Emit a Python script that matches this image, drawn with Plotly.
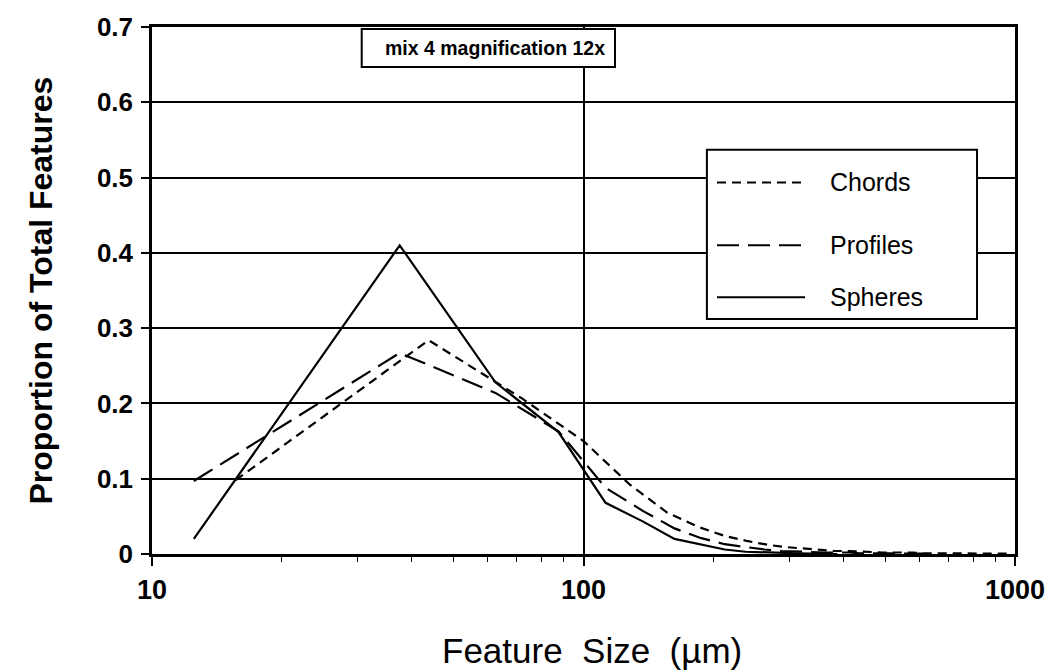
import plotly.graph_objects as go

# Chord-length distribution (28.125 µm bins, bin centres)
chord_size = [15.625, 43.75, 71.875, 100.0, 128.125, 156.25, 184.375, 212.5, 240.625,
              268.75, 296.875, 325.0, 353.125, 381.25, 409.375, 437.5, 465.625, 493.75,
              521.875, 550.0, 578.125, 606.25, 634.375, 662.5, 690.625, 718.75, 746.875,
              775.0, 803.125, 831.25, 859.375, 887.5, 915.625, 943.75, 971.875]
chord_prop = [0.098, 0.284, 0.207, 0.150, 0.092, 0.055, 0.036, 0.024, 0.017,
              0.012, 0.009, 0.007, 0.005, 0.004, 0.004, 0.003, 0.003, 0.002,
              0.002, 0.002, 0.002, 0.001, 0.001, 0.001, 0.001, 0.001, 0.001,
              0.001, 0.001, 0.001, 0.001, 0.0005, 0.0005, 0.0005, 0.0005]

# Profile-size distribution (25 µm bins)
profile_size = [12.5, 37.5, 62.5, 87.5, 112.5, 137.5, 162.5, 187.5, 212.5, 237.5,
                262.5, 287.5, 312.5, 337.5, 362.5, 387.5, 412.5, 437.5, 462.5, 487.5,
                512.5, 537.5, 562.5, 587.5, 612.5]
profile_prop = [0.097, 0.267, 0.214, 0.163, 0.088, 0.057, 0.034, 0.021, 0.013, 0.009,
                0.006, 0.004, 0.003, 0.003, 0.002, 0.002, 0.002, 0.001, 0.001, 0.001,
                0.001, 0.001, 0.0005, 0.0005, 0.0005]

# Unfolded sphere-size distribution (25 µm bins)
sphere_size = [12.5, 37.5, 62.5, 87.5, 112.5, 137.5, 162.5, 187.5, 212.5, 237.5,
               262.5, 287.5, 312.5, 337.5, 362.5, 387.5]
sphere_prop = [0.020, 0.410, 0.228, 0.162, 0.068, 0.043, 0.020, 0.012, 0.006, 0.003,
               0.002, 0.001, 0.001, 0.0005, 0.0, 0.0]

series_names = ["Chords", "Profiles", "Spheres"]
y_tick_vals = [0, 0.1, 0.2, 0.3, 0.4, 0.5, 0.6, 0.7]
y_tick_text = ["0", "0.1", "0.2", "0.3", "0.4", "0.5", "0.6", "0.7"]
x_tick_vals = [10, 100, 1000]
x_tick_text = ["10", "100", "1000"]
x_minor_vals = [20, 30, 40, 50, 60, 70, 80, 90, 200, 300, 400, 500, 600, 700, 800, 900]

title_text = "mix 4 magnification 12x"
x_title = "Feature&nbsp;&nbsp;Size&nbsp;&nbsp;(\u00b5m)"
y_title = "Proportion of Total Features"

FONT = "Arial, Liberation Sans, Helvetica, sans-serif"
dashes = {"Chords": "9px,6px", "Profiles": "22px,9px", "Spheres": "solid"}
data = {
    "Chords": (chord_size, chord_prop),
    "Profiles": (profile_size, profile_prop),
    "Spheres": (sphere_size, sphere_prop),
}

fig = go.Figure()
for name in series_names:
    xs, ys = data[name]
    fig.add_trace(go.Scatter(
        x=xs, y=ys, mode="lines", name=name, showlegend=False,
        line=dict(color="black", width=2.2, dash=dashes[name]),
    ))

fig.update_layout(
    width=1058, height=671,
    margin=dict(l=152, r=43, t=24, b=117),
    paper_bgcolor="white", plot_bgcolor="white",
    font=dict(family=FONT, color="black"),
    showlegend=False,
)

fig.update_xaxes(
    type="log", range=[1, 3],
    tickmode="array", tickvals=x_tick_vals, ticktext=["<b>%s</b>" % t for t in x_tick_text],
    tickfont=dict(size=27, family=FONT),
    ticks="outside", ticklen=9, tickwidth=1.5, tickcolor="black",
    ticklabelstandoff=1,
    showgrid=True, gridcolor="black", gridwidth=1.5,
    showline=True, linecolor="black", linewidth=2.5, mirror=True,
    zeroline=False,
    minor=dict(tickmode="array", tickvals=x_minor_vals, ticks="outside",
               ticklen=5, tickwidth=1.2, tickcolor="black", showgrid=False),
)
fig.update_yaxes(
    range=[0, 0.7],
    tickmode="array", tickvals=y_tick_vals, ticktext=["<b>%s</b>" % t for t in y_tick_text],
    tickfont=dict(size=26, family=FONT),
    ticks="outside", ticklen=8, tickwidth=1.5, tickcolor="black",
    ticklabelstandoff=3,
    showgrid=True, gridcolor="black", gridwidth=1.5,
    showline=True, linecolor="black", linewidth=2.5, mirror=True,
    zeroline=False,
)

# axis titles
fig.add_annotation(text="<b>" + y_title + "</b>", xref="paper", yref="paper",
                   x=0, y=0.5, xshift=-112, textangle=-90, showarrow=False,
                   xanchor="center", yanchor="middle",
                   font=dict(size=32, family=FONT))
fig.add_annotation(text=x_title, xref="paper", yref="paper",
                   x=0.5, y=0, yshift=-96, xshift=8, showarrow=False,
                   xanchor="center", yanchor="middle",
                   font=dict(size=35, family=FONT))

# boxed title inside the plot
fig.add_shape(type="rect", xref="paper", yref="paper",
              x0=0.243, x1=0.5365, y0=0.924, y1=0.996,
              line=dict(color="black", width=2), fillcolor="white", layer="above")
fig.add_annotation(text="<b>" + title_text + "</b>", xref="paper", yref="paper",
                   x=0.3975, y=0.96, showarrow=False, xanchor="center", yanchor="middle",
                   font=dict(size=19.5, family=FONT))

# framed key
fig.add_shape(type="rect", xref="paper", yref="paper",
              x0=0.643, x1=0.956, y0=0.446, y1=0.767,
              line=dict(color="black", width=2), fillcolor="white", layer="above")
key_rows = [0.7050, 0.5860, 0.4870]
for name, yk in zip(series_names, key_rows):
    fig.add_shape(type="line", xref="paper", yref="paper",
                  x0=0.6547, x1=0.7567, y0=yk, y1=yk,
                  line=dict(color="black", width=2, dash=dashes[name]), layer="above")
    fig.add_annotation(text=name, xref="paper", yref="paper",
                       x=0.7833, y=yk, showarrow=False, xanchor="left", yanchor="middle",
                       font=dict(size=25, family=FONT))

fig.write_html("out.html")
